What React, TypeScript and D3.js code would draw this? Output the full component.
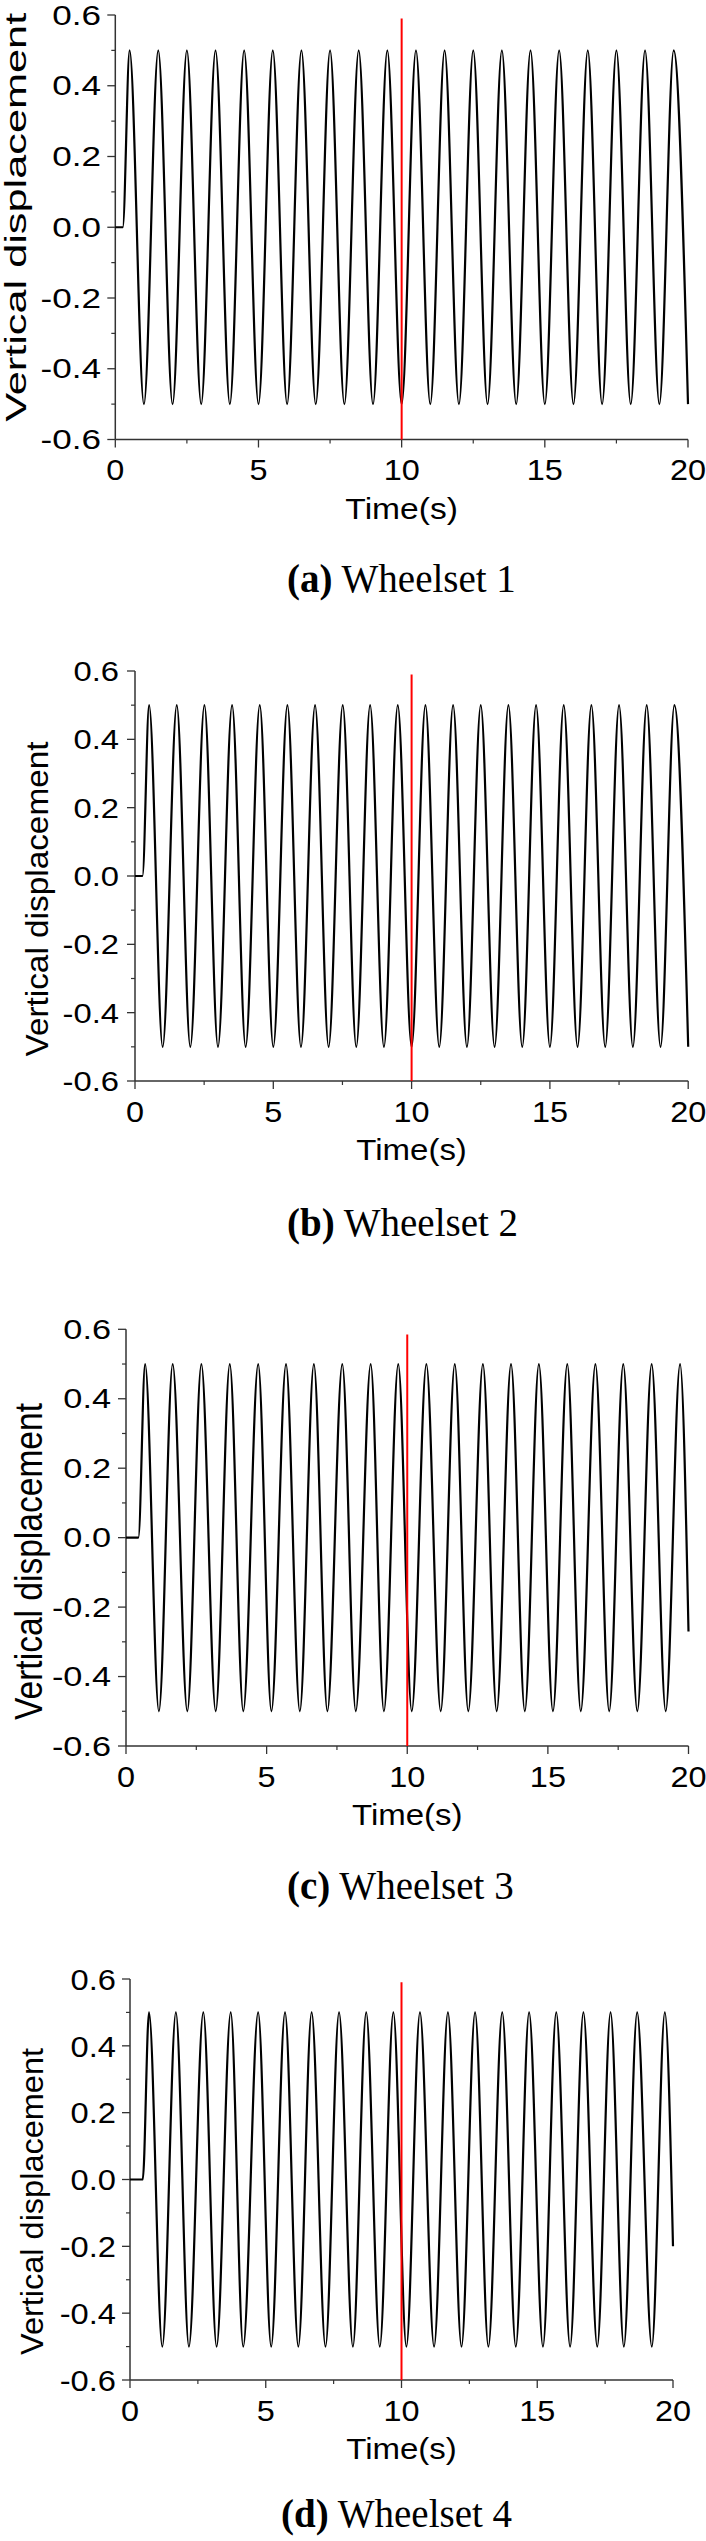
import React from "react";
import * as d3 from "d3";

// ---------- data ----------
const TIME_DOMAIN = [0, 20];
const DISP_DOMAIN = [-0.6, 0.6];
const TIME_TICKS = [0, 5, 10, 15, 20];
const TIME_MINOR = [2.5, 7.5, 12.5, 17.5];
const DISP_TICKS = [-0.6, -0.4, -0.2, 0.0, 0.2, 0.4, 0.6];
const DISP_MINOR = [-0.5, -0.3, -0.1, 0.1, 0.3, 0.5];
const X_LABEL = "Time(s)";
const Y_LABEL = "Vertical displacement";
const CAPTION_TAGS = ["(a)", "(b)", "(c)", "(d)"];
const CAPTION_NAMES = ["Wheelset 1", "Wheelset 2", "Wheelset 3", "Wheelset 4"];
const MARKER_TIME = 10;
const MARKER_TOP = [0.59, 0.59, 0.585, 0.59];

// Wheelset 1 : onset, then peaks / troughs
const ws1Time = [0, 0.26, 0.5, 1, 1.5, 2, 2.5, 3, 3.5, 4, 4.5, 5, 5.5, 6, 6.5, 7, 7.5, 8, 8.5, 9, 9.5, 10, 10.5, 11, 11.5, 12, 12.5, 13, 13.5, 14, 14.5, 15, 15.5, 16, 16.5, 17, 17.5, 18, 18.5, 19, 19.5, 20];
const ws1Disp = [0, 0, 0.5, -0.5, 0.5, -0.5, 0.5, -0.5, 0.5, -0.5, 0.5, -0.5, 0.5, -0.5, 0.5, -0.5, 0.5, -0.5, 0.5, -0.5, 0.5, -0.5, 0.5, -0.5, 0.5, -0.5, 0.5, -0.5, 0.5, -0.5, 0.5, -0.5, 0.5, -0.5, 0.5, -0.5, 0.5, -0.5, 0.5, -0.5, 0.5, -0.5];

// Wheelset 2
const ws2Time = [0, 0.27, 0.51, 1, 1.51, 2, 2.51, 3, 3.51, 4, 4.51, 5, 5.51, 6, 6.51, 7, 7.51, 8, 8.5, 9, 9.5, 10, 10.5, 11, 11.5, 12, 12.5, 13, 13.5, 14, 14.5, 15, 15.5, 16, 16.5, 17, 17.5, 18, 18.5, 19, 19.5, 20];
const ws2Disp = [0, 0, 0.5, -0.5, 0.5, -0.5, 0.5, -0.5, 0.5, -0.5, 0.5, -0.5, 0.5, -0.5, 0.5, -0.5, 0.5, -0.5, 0.5, -0.5, 0.5, -0.5, 0.5, -0.5, 0.5, -0.5, 0.5, -0.5, 0.5, -0.5, 0.5, -0.5, 0.5, -0.5, 0.5, -0.5, 0.5, -0.5, 0.5, -0.5, 0.5, -0.5];

// Wheelset 3
const ws3Time = [0, 0.44, 0.68, 1.17, 1.66, 2.18, 2.68, 3.19, 3.69, 4.17, 4.7, 5.17, 5.69, 6.18, 6.68, 7.16, 7.69, 8.17, 8.7, 9.17, 9.68, 10.16, 10.68, 11.19, 11.69, 12.17, 12.69, 13.18, 13.69, 14.18, 14.68, 15.18, 15.69, 16.17, 16.69, 17.18, 17.68, 18.18, 18.69, 19.19, 19.7, 20];
const ws3Disp = [0, 0, 0.5, -0.5, 0.5, -0.5, 0.5, -0.5, 0.5, -0.5, 0.5, -0.5, 0.5, -0.5, 0.5, -0.5, 0.5, -0.5, 0.5, -0.5, 0.5, -0.5, 0.5, -0.5, 0.5, -0.5, 0.5, -0.5, 0.5, -0.5, 0.5, -0.5, 0.5, -0.5, 0.5, -0.5, 0.5, -0.5, 0.5, -0.5, 0.5, -0.27];

// Wheelset 4
const ws4Time = [0, 0.47, 0.7, 1.19, 1.69, 2.17, 2.7, 3.19, 3.71, 4.17, 4.72, 5.2, 5.71, 6.2, 6.69, 7.2, 7.7, 8.21, 8.7, 9.2, 9.7, 10.18, 10.68, 11.2, 11.71, 12.21, 12.71, 13.2, 13.71, 14.21, 14.7, 15.21, 15.7, 16.21, 16.7, 17.21, 17.7, 18.19, 18.68, 19.22, 19.7, 20];
const ws4Disp = [0, 0, 0.5, -0.5, 0.5, -0.5, 0.5, -0.5, 0.5, -0.5, 0.5, -0.5, 0.5, -0.5, 0.5, -0.5, 0.5, -0.5, 0.5, -0.5, 0.5, -0.5, 0.5, -0.5, 0.5, -0.5, 0.5, -0.5, 0.5, -0.5, 0.5, -0.5, 0.5, -0.5, 0.5, -0.5, 0.5, -0.5, 0.5, -0.5, 0.5, -0.2];

const SERIES_TIME = [ws1Time, ws2Time, ws3Time, ws4Time];
const SERIES_DISP = [ws1Disp, ws2Disp, ws3Disp, ws4Disp];

// ---------- layout (positions / styles) ----------
const LAYOUT = [
  { x0: 115.3, x1: 688, yTop: 15, yBot: 439.5, yTickFs: 27, yTickSx: 1.3, yTickRight: 101, yLabX: 26, yLabCy: 217.3, yLabFs: 29.5, yLabLen: 409, xLabSx: 1.12, capX: 287, capY: 592 },
  { x0: 135, x1: 688.2, yTop: 671, yBot: 1081, yTickFs: 28, yTickSx: 1.17, yTickRight: 119, yLabX: 48.3, yLabCy: 899, yLabFs: 32, yLabLen: 315, xLabSx: 1.1, capX: 287, capY: 1236 },
  { x0: 126, x1: 688.5, yTop: 1329.3, yBot: 1746, yTickFs: 27, yTickSx: 1.27, yTickRight: 111, yLabX: 41.7, yLabCy: 1561.5, yLabFs: 38, yLabLen: 317, xLabSx: 1.1, capX: 287, capY: 1899 },
  { x0: 130, x1: 673, yTop: 1979, yBot: 2380, yTickFs: 30, yTickSx: 1.09, yTickRight: 116, yLabX: 43.3, yLabCy: 2201.5, yLabFs: 31.6, yLabLen: 307, xLabSx: 1.1, capX: 281, capY: 2527 },
];

const SANS = "'Liberation Sans', Arial, sans-serif";
const SERIF = "'Liberation Serif', 'Times New Roman', serif";
const AXIS_COLOR = "#333";

function fmt(v: number) {
  return d3.format(".1f")(v).replace("−", "-");
}

function Panel({ idx }: { idx: number }) {
  const L = LAYOUT[idx];
  const x = d3.scaleLinear().domain(TIME_DOMAIN).range([L.x0, L.x1]);
  const y = d3.scaleLinear().domain(DISP_DOMAIN).range([L.yBot, L.yTop]);
  const times = SERIES_TIME[idx];
  const disps = SERIES_DISP[idx];
  const pts = times.map((t, i) => [t, disps[i]] as [number, number]);
  const line = d3
    .line<[number, number]>()
    .x((d) => x(d[0]))
    .y((d) => y(d[1]))
    .curve(d3.curveMonotoneX);
  const xAxisY = L.yBot;
  const yAxisX = L.x0;
  const xMid = (L.x0 + L.x1) / 2;

  return (
    <g>
      <line x1={yAxisX} x2={yAxisX} y1={y(DISP_DOMAIN[1])} y2={xAxisY} stroke={AXIS_COLOR} strokeWidth={1.5} />
      <line x1={yAxisX} x2={x(TIME_DOMAIN[1])} y1={xAxisY} y2={xAxisY} stroke={AXIS_COLOR} strokeWidth={1.5} />
      {DISP_TICKS.map((v) => (
        <line key={"ym" + v} x1={yAxisX - 8} x2={yAxisX} y1={y(v)} y2={y(v)} stroke={AXIS_COLOR} strokeWidth={1.3} />
      ))}
      {DISP_MINOR.map((v) => (
        <line key={"yn" + v} x1={yAxisX - 4} x2={yAxisX} y1={y(v)} y2={y(v)} stroke={AXIS_COLOR} strokeWidth={1.2} />
      ))}
      {DISP_TICKS.map((v) => (
        <text
          key={"yl" + v}
          transform={`translate(${L.yTickRight},${y(v) + 0.358 * L.yTickFs}) scale(${L.yTickSx},1)`}
          textAnchor="end"
          fontFamily={SANS}
          fontSize={L.yTickFs}
          fill="#000"
        >
          {fmt(v)}
        </text>
      ))}
      {TIME_TICKS.map((v) => (
        <line key={"xm" + v} x1={x(v)} x2={x(v)} y1={xAxisY} y2={xAxisY + 8} stroke={AXIS_COLOR} strokeWidth={1.3} />
      ))}
      {TIME_MINOR.map((v) => (
        <line key={"xn" + v} x1={x(v)} x2={x(v)} y1={xAxisY} y2={xAxisY + 4} stroke={AXIS_COLOR} strokeWidth={1.2} />
      ))}
      {TIME_TICKS.map((v) => (
        <text
          key={"xl" + v}
          transform={`translate(${x(v)},${xAxisY + 40.5}) scale(1.08,1)`}
          textAnchor="middle"
          fontFamily={SANS}
          fontSize={30}
          fill="#000"
        >
          {String(v)}
        </text>
      ))}
      <text
        transform={`translate(${xMid},${xAxisY + 79}) scale(${L.xLabSx},1)`}
        textAnchor="middle"
        fontFamily={SANS}
        fontSize={30}
        fill="#000"
      >
        {X_LABEL}
      </text>
      <text
        transform={`translate(${L.yLabX},${L.yLabCy}) rotate(-90)`}
        textAnchor="middle"
        fontFamily={SANS}
        fontSize={L.yLabFs}
        textLength={L.yLabLen}
        lengthAdjust="spacingAndGlyphs"
        fill="#000"
      >
        {Y_LABEL}
      </text>
      <path d={line(pts) || ""} fill="none" stroke="#000" strokeWidth={2.2} strokeLinejoin="round" />
      <line
        x1={x(MARKER_TIME)}
        x2={x(MARKER_TIME)}
        y1={y(MARKER_TOP[idx])}
        y2={xAxisY}
        stroke="#ff0000"
        strokeWidth={2}
      />
      <text x={L.capX} y={L.capY} fontFamily={SERIF} fontSize={39} fill="#000">
        <tspan fontWeight="bold">{CAPTION_TAGS[idx]}</tspan>
        {" " + CAPTION_NAMES[idx]}
      </text>
    </g>
  );
}

export default function App() {
  return (
    <svg
      width={706}
      height={2541}
      viewBox="0 0 706 2541"
      style={{ position: "absolute", left: 0, top: 0, background: "#fff", display: "block" }}
    >
      <rect x={0} y={0} width={706} height={2541} fill="#fff" />
      {LAYOUT.map((_, i) => (
        <Panel key={i} idx={i} />
      ))}
    </svg>
  );
}
